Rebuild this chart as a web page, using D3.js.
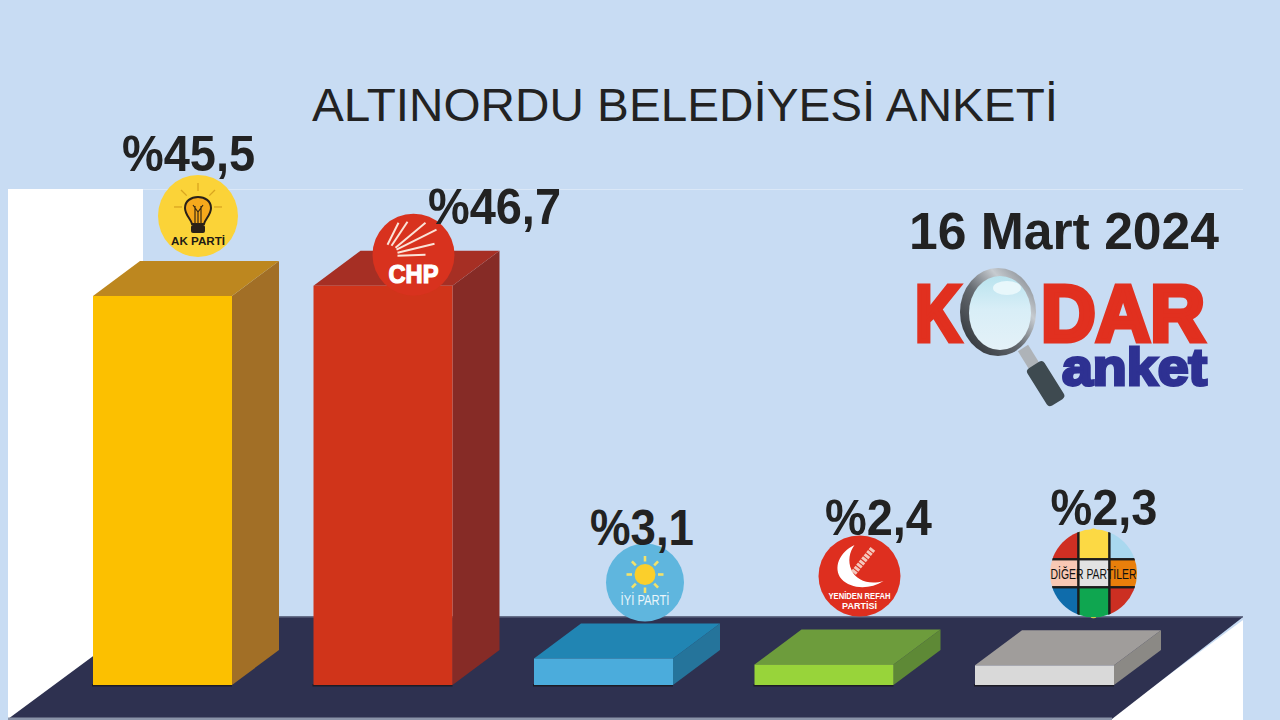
<!DOCTYPE html>
<html><head><meta charset="utf-8">
<script src="https://cdn.jsdelivr.net/npm/d3@7"></script>
<style>html,body{margin:0;padding:0;background:#c8dcf3;overflow:hidden}svg{display:block}text{font-family:"Liberation Sans",Arial,sans-serif}</style>
</head><body><svg id="c" width="1280" height="720"></svg>
<script>
const parties = ["AK PARTİ","CHP","İYİ PARTİ","YENİDEN REFAH PARTİSİ","DİĞER PARTİLER"];
const values = [45.5,46.7,3.1,2.4,2.3];
const valueLabels = ["%45,5","%46,7","%3,1","%2,4","%2,3"];
const frontColors = ["#fcc000","#d0341a","#4bacdc","#98d43a","#d9d9d9"];
const topColors = ["#bd871f","#a62f24","#2185b3","#6d9c3c","#a09d9b"];
const sideColors = ["#a26f26","#862b26","#25749b","#5e8936","#8b8985"];
const labelOffsets = [[95.5,-125],[181,-62],[108,-113],[124,-129],[129,-140]];
const labelWidths = [133,133,104,107,107];
const logoOffsets = [[105,-80],[100,-31],[111,-76],[105,-88.5],[118.5,-92]];

const svg = d3.select("#c");
const x = d3.scaleBand().domain(parties).range([93,1114]).paddingInner(0.3696);
const y = d3.scaleLinear().domain([0,50]).range([685,257.5]);
const dx = 47, dy = -35;
const line = d3.line();
const defs = svg.append("defs");
const grad=(id,a,b,stops)=>{const g=defs.append("linearGradient").attr("id",id).attr("x1",a[0]).attr("y1",a[1]).attr("x2",b[0]).attr("y2",b[1]);
  stops.forEach(s=>g.append("stop").attr("offset",s[0]).attr("stop-color",s[1]));};
grad("ring",[0.1,0.9],[0.9,0.1],[[0,"#33373c"],[0.45,"#666b71"],[0.75,"#c6cbd0"],[1,"#8b9096"]]);
grad("lens",[0.5,0],[0.5,1],[[0,"#b9e3ee"],[0.45,"#d8eef7"],[1,"#e4f1f8"]]);

svg.append("rect").attr("width",1280).attr("height",720).attr("fill","#c8dcf3");
svg.append("rect").attr("x",8).attr("y",189).attr("width",135).attr("height",531).attr("fill","#fff");
svg.append("line").attr("x1",143).attr("x2",1243).attr("y1",189.5).attr("y2",189.5).attr("stroke","#dbe8f7");
svg.append("path").attr("d",line([[1243,620],[1243,720],[1108,720]])+"Z").attr("fill","#fff");
svg.append("path").attr("d",line([[8,719],[146,617],[1243,617],[1112,719]])+"Z").attr("fill","#2e3150");
svg.append("rect").attr("x",8).attr("y",717.5).attr("width",1104).attr("height",2.5).attr("fill","#8a93a8");
svg.append("rect").attr("x",146).attr("y",616).attr("width",1097).attr("height",1.5).attr("fill","#66708a");

const bars = svg.selectAll("g.bar").data(parties).join("g").attr("class","bar");
bars.each(function(p,i){
  const g=d3.select(this), x0=x(p), x1=x0+x.bandwidth(), yT=y(values[i]), yB=y(0);
  g.append("rect").attr("x",x0-1).attr("y",yB-1).attr("width",x.bandwidth()+1).attr("height",2.5).attr("fill","#1d1c26");
  g.append("path").attr("d",line([[x1,yT],[x1+dx,yT+dy],[x1+dx,yB+dy],[x1,yB]])+"Z").attr("fill",sideColors[i]);
  g.append("path").attr("d",line([[x0,yT],[x0+dx,yT+dy],[x1+dx,yT+dy],[x1,yT]])+"Z").attr("fill",topColors[i]);
  g.append("rect").attr("x",x0).attr("y",yT).attr("width",x.bandwidth()).attr("height",yB-yT).attr("fill",frontColors[i]);
});

function logo(i){
  const c=[x(parties[i])+logoOffsets[i][0], y(values[i])+logoOffsets[i][1]];
  return svg.append("g").attr("transform",`translate(${c[0]},${c[1]})`);
}
// AK
(function(){
  const g=logo(0);
  g.append("ellipse").attr("rx",40).attr("ry",41).attr("fill","#fbd338");
  [-180,-135,-90,-45,0].forEach(d=>{const a=d*Math.PI/180;
    g.append("line").attr("x1",16*Math.cos(a)).attr("y1",-9+16*Math.sin(a)).attr("x2",24*Math.cos(a)).attr("y2",-9+24*Math.sin(a)).attr("stroke","#d9a520").attr("stroke-width",1.3);});
  g.append("path").attr("d","M-6,8 C-7,3 -13,-1 -13,-8 C-13,-15 -7,-19 0,-19 C7,-19 13,-15 13,-8 C13,-1 7,3 6,8 Z").attr("fill","#f6a91c").attr("stroke","#2a2118").attr("stroke-width",2);
  g.append("path").attr("d","M-5,-11 L0,-4 L5,-11 M0,-4 L0,8 M-3,-10 L-3,8 M3,-10 L3,8").attr("fill","none").attr("stroke","#3a2a12").attr("stroke-width",1.2);
  g.append("rect").attr("x",-7).attr("y",9).attr("width",14).attr("height",8).attr("rx",2).attr("fill","#2a2118");
  g.append("text").attr("y",29).attr("text-anchor","middle").attr("font-size",11.5).attr("font-weight",700).attr("fill","#1e1a14").attr("textLength",54).attr("lengthAdjust","spacingAndGlyphs").text("AK PARTİ");
})();
// CHP
(function(){
  const g=logo(1);
  g.append("ellipse").attr("rx",41).attr("ry",41).attr("fill","#d8321e");
  const tips=[[-15,-32],[-6,-33],[12,-32],[23,-25],[21,-11],[12,0]], tails=[[-26,-10],[-22,-9],[-18,-7],[-17,-5],[-16,-2],[-16,1]];
  tips.forEach((e,k)=>g.append("line").attr("x1",tails[k][0]).attr("y1",tails[k][1]).attr("x2",e[0]).attr("y2",e[1]).attr("stroke","#fbe3d8").attr("stroke-width",2));
  g.append("text").attr("y",28).attr("text-anchor","middle").attr("font-size",25).attr("font-weight",700).attr("fill","#fff").attr("stroke","#fff").attr("stroke-width",1.2).attr("textLength",50).attr("lengthAdjust","spacingAndGlyphs").text("CHP");
})();
// IYI
(function(){
  const g=logo(2);
  g.append("ellipse").attr("rx",39).attr("ry",39).attr("fill","#5fb6de");
  d3.range(8).forEach(k=>{const a=k*45*Math.PI/180;
    g.append("line").attr("x1",13*Math.cos(a)).attr("y1",-8+13*Math.sin(a)).attr("x2",18.5*Math.cos(a)).attr("y2",-8+18.5*Math.sin(a)).attr("stroke","#f3e26a").attr("stroke-width",2.6);});
  g.append("circle").attr("cy",-8).attr("r",10.5).attr("fill","#fbcf2b");
  g.append("text").attr("y",23).attr("text-anchor","middle").attr("font-size",14).attr("fill","#eaf6fb").attr("textLength",49).attr("lengthAdjust","spacingAndGlyphs").text("İYİ PARTİ");
})();
// YRP
(function(){
  const g=logo(3);
  g.append("ellipse").attr("rx",41).attr("ry",40.5).attr("fill","#de2f1f");
  g.append("path").attr("d","M-5,-31 C-20,-24 -27,-8 -18,3 C-9,13 10,14 24,5 C10,9 -3,5 -8,-6 C-12,-15 -10,-24 -5,-31 Z").attr("fill","#fff");
  g.append("line").attr("x1",-6).attr("y1",-3).attr("x2",14).attr("y2",-28).attr("stroke","#f4c8bd").attr("stroke-width",6).attr("stroke-dasharray","3 1");
  g.append("text").attr("y",23).attr("text-anchor","middle").attr("font-size",9.5).attr("font-weight",700).attr("fill","#fff").attr("textLength",62).attr("lengthAdjust","spacingAndGlyphs").text("YENİDEN REFAH");
  g.append("text").attr("y",33).attr("text-anchor","middle").attr("font-size",9).attr("font-weight",700).attr("fill","#fff").text("PARTİSİ");
})();
// Diger
(function(){
  const g=logo(4);
  const cid="dg";
  defs.append("clipPath").attr("id",cid).append("ellipse").attr("rx",43.5).attr("ry",44);
  g.append("ellipse").attr("rx",12).attr("ry",45).attr("fill","#fcd944");
  const cells=[["#cf2f23","#fcd944","#a9d8ef"],["#f8c8b4","#e2e2e2","#e97f0b"],["#0f6cab","#0fa650","#cc2f22"]];
  const xs=[-46,-15,16,46], ys=[-46,-14,14,46];
  const cg=g.append("g").attr("clip-path",`url(#${cid})`);
  cells.forEach((row,r)=>row.forEach((col,c)=>cg.append("rect").attr("x",xs[c]).attr("y",ys[r]).attr("width",xs[c+1]-xs[c]).attr("height",ys[r+1]-ys[r]).attr("fill",col).attr("stroke","#1c1c1c").attr("stroke-width",2.2)));
  g.append("text").attr("y",0).attr("dy",".36em").attr("text-anchor","middle").attr("font-size",15).attr("fill","#111").attr("textLength",86).attr("lengthAdjust","spacingAndGlyphs").text("DİĞER PARTİLER");
})();

svg.selectAll("text.val").data(parties).join("text").attr("class","val")
  .attr("x",(p,i)=>x(p)+labelOffsets[i][0]).attr("y",(p,i)=>y(values[i])+labelOffsets[i][1])
  .attr("text-anchor","middle").attr("font-size",50).attr("font-weight",700).attr("fill","#222")
  .attr("textLength",(p,i)=>labelWidths[i]).attr("lengthAdjust","spacingAndGlyphs")
  .text((p,i)=>valueLabels[i]);

svg.append("text").attr("x",685).attr("y",121).attr("text-anchor","middle").attr("font-size",47).attr("fill","#222").attr("textLength",746).attr("lengthAdjust","spacingAndGlyphs").text("ALTINORDU BELEDİYESİ ANKETİ");
svg.append("text").attr("x",1064).attr("y",249).attr("text-anchor","middle").attr("font-size",51).attr("font-weight",700).attr("fill","#222").attr("textLength",310).attr("lengthAdjust","spacingAndGlyphs").text("16 Mart 2024");

// KODAR logo
const kodar=(t,a,b)=>svg.append("text").attr("x",a).attr("y",341).attr("font-size",80).attr("font-weight",900).attr("fill","#e1301f").attr("stroke","#e1301f").attr("stroke-width",5).attr("textLength",b-a).attr("lengthAdjust","spacingAndGlyphs").text(t);
kodar("K",915,961); kodar("DAR",1041,1205);
svg.append("text").attr("x",1062).attr("y",385).attr("font-size",52).attr("font-weight",900).attr("fill","#2e3192").attr("stroke","#2e3192").attr("stroke-width",3).attr("textLength",145).attr("lengthAdjust","spacingAndGlyphs").text("anket");
svg.append("line").attr("x1",1023).attr("y1",348).attr("x2",1036).attr("y2",369).attr("stroke","#aeb3b8").attr("stroke-width",12);
svg.append("rect").attr("x",0).attr("y",-10).attr("width",44).attr("height",20).attr("rx",4).attr("fill","#3e4a50").attr("transform","translate(1034,365) rotate(58)");
svg.append("ellipse").attr("cx",998).attr("cy",312).attr("rx",38).attr("ry",44).attr("fill","url(#ring)");
svg.append("ellipse").attr("cx",1000).attr("cy",313).attr("rx",31).attr("ry",37).attr("fill","url(#lens)");
svg.append("ellipse").attr("cx",1007).attr("cy",288).attr("rx",14).attr("ry",7).attr("fill","#e8f7fb");
</script></body></html>
